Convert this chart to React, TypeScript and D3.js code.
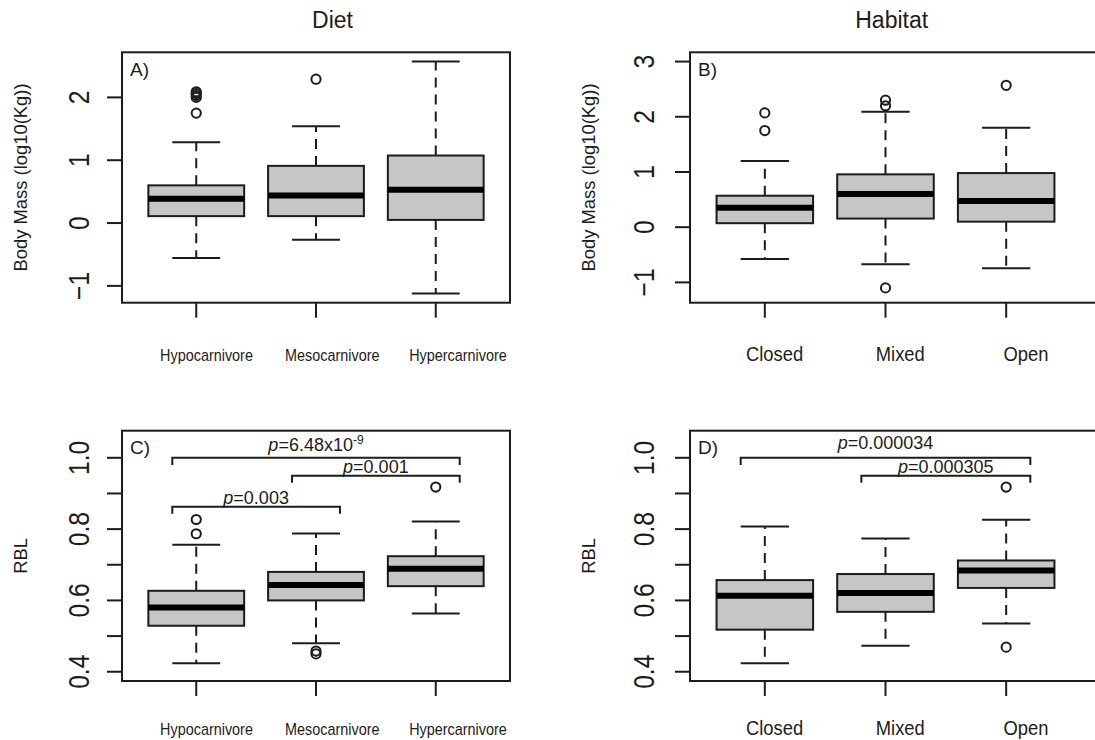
import React from "react";
import * as d3 from "d3";

const dietGroups = ["Hypocarnivore", "Mesocarnivore", "Hypercarnivore"];
const habitatGroups = ["Closed", "Mixed", "Open"];

// box stats per group: lower whisker, Q1, median, Q3, upper whisker
const massDiet = [
  [-0.555, 0.11, 0.385, 0.6, 1.285],
  [-0.265, 0.11, 0.44, 0.91, 1.54],
  [-1.12, 0.05, 0.53, 1.075, 2.57],
];
const massDietOut = [[1.75, 2.0, 2.03, 2.06, 2.09], [2.29], []];

const massHabitat = [
  [-0.578, 0.072, 0.35, 0.57, 1.2],
  [-0.67, 0.156, 0.6, 0.957, 2.09],
  [-0.745, 0.1, 0.475, 0.98, 1.8],
];
const massHabitatOut = [[1.75, 2.07], [2.2, 2.3, -1.1], [2.57]];

const rblDiet = [
  [0.424, 0.529, 0.58, 0.627, 0.756],
  [0.48, 0.6, 0.643, 0.68, 0.788],
  [0.563, 0.64, 0.689, 0.724, 0.821],
];
const rblDietOut = [[0.787, 0.827], [0.45, 0.458], [0.918]];

const rblHabitat = [
  [0.424, 0.518, 0.613, 0.657, 0.807],
  [0.473, 0.568, 0.621, 0.674, 0.774],
  [0.535, 0.635, 0.684, 0.712, 0.826],
];
const rblHabitatOut = [[], [], [0.918, 0.469]];

// axis ticks and limits
const massDietTicks = [-1, 0, 1, 2];
const massHabitatTicks = [-1, 0, 1, 2, 3];
const rblTicks = [0.4, 0.5, 0.6, 0.7, 0.8, 0.9, 1.0];
const rblTickLabels = [0.4, 0.6, 0.8, 1.0];
const massDietLim = [-1.12, 2.57];
const massHabitatLim = [-1.2, 3];
const rblLim = [0.4, 1.05];

// significance brackets
const dietPairs = [[1, 3], [2, 3], [1, 2]];
const dietPairLevel = [1.0, 0.95, 0.863];
const dietPairText = ["6.48x10", "0.001", "0.003"];
const dietPairSup = ["-9", "", ""];
const dietPairTextY = [1.019, 0.958, 0.871];

const habitatPairs = [[1, 3], [2, 3]];
const habitatPairLevel = [1.0, 0.95];
const habitatPairText = ["0.000034", "0.000305"];
const habitatPairSup = ["", ""];
const habitatPairTextY = [1.025, 0.958];

const INK = "#1c1c1c";
const FONT = "'Liberation Sans', Arial, Helvetica, sans-serif";

function fmtTick(v, digits) {
  return v.toFixed(digits).replace("-", "\u2212");
}

function Panel(props) {
  const {
    tag, left, right, top, bottom, frameRight, stats, outliers, groups,
    ticks, tickLabels, digits, lim, yTitle, labelSize, labelScale, tickOffset, labelDrop,
    pairs, pairLevel, pairText, pairSup, pairTextY,
  } = props;

  const x = d3.scaleLinear().domain([0.38, 3.62]).range([left, right]);
  const pad = (lim[1] - lim[0]) * 0.04;
  const y = d3.scaleLinear().domain([lim[0] - pad, lim[1] + pad]).range([bottom, top]);
  const labelX = d3.scaleLinear().domain([1, 3]).range([left + 84.5, left + 336]);
  const halfBox = 0.4;
  const halfCap = 0.2;
  const midY = (top + bottom) / 2;

  return (
    <g>
      {/* whiskers, boxes, medians */}
      {stats.map((s, i) => {
        const cx = x(i + 1);
        return (
          <g key={i}>
            <line x1={cx} x2={cx} y1={y(s[1])} y2={y(s[0])} stroke={INK} strokeWidth={2} strokeDasharray="10,7" />
            <line x1={cx} x2={cx} y1={y(s[3])} y2={y(s[4])} stroke={INK} strokeWidth={2} strokeDasharray="10,7" />
            <line x1={x(i + 1 - halfCap)} x2={x(i + 1 + halfCap)} y1={y(s[0])} y2={y(s[0])} stroke={INK} strokeWidth={2} />
            <line x1={x(i + 1 - halfCap)} x2={x(i + 1 + halfCap)} y1={y(s[4])} y2={y(s[4])} stroke={INK} strokeWidth={2} />
            <rect
              x={x(i + 1 - halfBox)}
              width={x(i + 1 + halfBox) - x(i + 1 - halfBox)}
              y={y(s[3])}
              height={y(s[1]) - y(s[3])}
              fill="#c6c6c6"
              stroke={INK}
              strokeWidth={2}
            />
            <line x1={x(i + 1 - halfBox)} x2={x(i + 1 + halfBox)} y1={y(s[2])} y2={y(s[2])} stroke="#000" strokeWidth={6} />
            {outliers[i].map((o, j) => (
              <circle key={j} cx={cx} cy={y(o)} r={4.6} fill="none" stroke={INK} strokeWidth={2} />
            ))}
          </g>
        );
      })}

      {/* frame */}
      <rect x={left} y={top} width={frameRight - left} height={bottom - top} fill="none" stroke={INK} strokeWidth={2} />

      {/* y axis */}
      {ticks.map((t) => (
        <line key={t} x1={left - 15} x2={left} y1={y(t)} y2={y(t)} stroke={INK} strokeWidth={2} />
      ))}
      {tickLabels.map((t) => (
        <text
          key={t}
          transform={`translate(${left - tickOffset},${y(t)}) rotate(-90) scale(0.85,1)`}
          textAnchor="middle"
          fontSize={29}
          fill={INK}
        >
          {fmtTick(t, digits)}
        </text>
      ))}
      <text
        transform={`translate(${left - 95.5},${midY}) rotate(-90)`}
        textAnchor="middle"
        fontSize={18.4}
        fill={INK}
      >
        {yTitle}
      </text>

      {/* x axis */}
      {groups.map((g, i) => (
        <g key={g}>
          <line x1={x(i + 1)} x2={x(i + 1)} y1={bottom} y2={bottom + 15} stroke={INK} strokeWidth={2} />
          <text
            transform={`translate(${labelX(i + 1)},${bottom + labelDrop}) scale(${labelScale},1)`}
            textAnchor="middle"
            fontSize={labelSize}
            fill={INK}
          >
            {g}
          </text>
        </g>
      ))}

      <text x={left + 8} y={top + 23.5} fontSize={19} fill={INK}>
        {tag}
      </text>

      {/* brackets */}
      {pairs &&
        pairs.map((p, k) => {
          const x0 = x(p[0] - halfCap);
          const x1 = x(p[1] + halfCap);
          const yl = y(pairLevel[k]);
          const yd = y(pairLevel[k] - 0.02);
          return (
            <g key={k}>
              <path d={`M${x0},${yd}V${yl}H${x1}V${yd}`} fill="none" stroke={INK} strokeWidth={2} />
              <text x={(x0 + x1) / 2} y={y(pairTextY[k])} textAnchor="middle" fontSize={18} fill={INK}>
                <tspan fontStyle="italic">p</tspan>
                {"=" + pairText[k]}
                {pairSup[k] && (
                  <tspan dy={-7} fontSize={12}>
                    {pairSup[k]}
                  </tspan>
                )}
              </text>
            </g>
          );
        })}
    </g>
  );
}

export default function App() {
  const topRow = { top: 52.3, bottom: 302.7, labelDrop: 58 };
  const botRow = { top: 430.7, bottom: 681, labelDrop: 54 };
  const leftCol = { left: 122, right: 510, frameRight: 510, tickOffset: 33 };
  const rightCol = { left: 690, right: 1081, frameRight: 1110, tickOffset: 36 };

  return (
    <svg
      width={1095}
      height={740}
      style={{ position: "absolute", left: 0, top: 0, background: "#fff" }}
      fontFamily={FONT}
    >
      <text x={332.5} y={28.3} textAnchor="middle" fontSize={23} fill={INK}>
        Diet
      </text>
      <text x={891.7} y={28.3} textAnchor="middle" fontSize={23} fill={INK}>
        Habitat
      </text>

      <Panel
        tag="A)"
        {...topRow}
        {...leftCol}
        stats={massDiet}
        outliers={massDietOut}
        groups={dietGroups}
        ticks={massDietTicks}
        tickLabels={massDietTicks}
        digits={0}
        lim={massDietLim}
        yTitle="Body Mass (log10(Kg))"
        labelSize={16}
        labelScale={0.9}
      />
      <Panel
        tag="B)"
        {...topRow}
        {...rightCol}
        stats={massHabitat}
        outliers={massHabitatOut}
        groups={habitatGroups}
        ticks={massHabitatTicks}
        tickLabels={massHabitatTicks}
        digits={0}
        lim={massHabitatLim}
        yTitle="Body Mass (log10(Kg))"
        labelSize={20}
        labelScale={0.92}
      />
      <Panel
        tag="C)"
        {...botRow}
        {...leftCol}
        stats={rblDiet}
        outliers={rblDietOut}
        groups={dietGroups}
        ticks={rblTicks}
        tickLabels={rblTickLabels}
        digits={1}
        lim={rblLim}
        yTitle="RBL"
        labelSize={16}
        labelScale={0.9}
        pairs={dietPairs}
        pairLevel={dietPairLevel}
        pairText={dietPairText}
        pairSup={dietPairSup}
        pairTextY={dietPairTextY}
      />
      <Panel
        tag="D)"
        {...botRow}
        {...rightCol}
        stats={rblHabitat}
        outliers={rblHabitatOut}
        groups={habitatGroups}
        ticks={rblTicks}
        tickLabels={rblTickLabels}
        digits={1}
        lim={rblLim}
        yTitle="RBL"
        labelSize={20}
        labelScale={0.92}
        pairs={habitatPairs}
        pairLevel={habitatPairLevel}
        pairText={habitatPairText}
        pairSup={habitatPairSup}
        pairTextY={habitatPairTextY}
      />
    </svg>
  );
}
